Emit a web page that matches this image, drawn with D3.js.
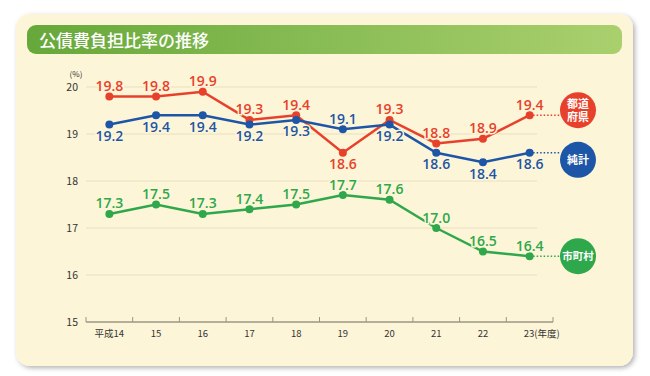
<!DOCTYPE html>
<html>
<head>
<meta charset="utf-8">
<script src="https://cdn.jsdelivr.net/npm/d3@7"></script>
<style>
  body { margin: 0; background: #fff; }
  svg { display: block; font-family: "Noto Sans CJK JP", "Noto Sans", sans-serif; }
</style>
</head>
<body>
<div id="chart"></div>
<script>
// data
const years = ["平成14", "15", "16", "17", "18", "19", "20", "21", "22", "23"];
const prefValues = [19.8, 19.8, 19.9, 19.3, 19.4, 18.6, 19.3, 18.8, 18.9, 19.4];
const netValues = [19.2, 19.4, 19.4, 19.2, 19.3, 19.1, 19.2, 18.6, 18.4, 18.6];
const cityValues = [17.3, 17.5, 17.3, 17.4, 17.5, 17.7, 17.6, 17.0, 16.5, 16.4];
const yTicks = [15, 16, 17, 18, 19, 20];

// series: label side per point ("up" / "down")
const series = [
    { name: ["都道", "府県"], values: prefValues, color: "#e8412b",
      side: ["up", "up", "up", "up", "up", "down", "up", "up", "up", "up"], badgeDy: -5 },
    { name: ["純計"], values: netValues, color: "#1d56a6",
      side: ["down", "down", "down", "down", "down", "up", "down", "down", "down", "down"], badgeDy: 7 },
    { name: ["市町村"], values: cityValues, color: "#2ea84b",
      side: ["up", "up", "up", "up", "up", "up", "up", "up", "up", "up"], badgeDy: 0 }
];

const W = 650, H = 376;
const svg = d3.select("#chart").append("svg")
    .attr("width", W)
    .attr("height", H);

const defs = svg.append("defs");

// panel shadow
const shadow = defs.append("filter").attr("id", "shadow")
    .attr("x", "-5%").attr("y", "-5%").attr("width", "110%").attr("height", "115%");
shadow.append("feDropShadow")
    .attr("dx", 2).attr("dy", 2).attr("stdDeviation", 2.5)
    .attr("flood-color", "#000").attr("flood-opacity", 0.3);

const grad = defs.append("linearGradient").attr("id", "titleGrad");
grad.append("stop").attr("offset", "0%").attr("stop-color", "#67a83a");
grad.append("stop").attr("offset", "100%").attr("stop-color", "#aad06e");

// panel
svg.append("rect")
    .attr("x", 16).attr("y", 14)
    .attr("width", 617).attr("height", 352)
    .attr("rx", 14)
    .attr("fill", "#fdf5d8")
    .attr("filter", "url(#shadow)");

// title bar
svg.append("rect")
    .attr("x", 27).attr("y", 25)
    .attr("width", 595).attr("height", 29)
    .attr("rx", 9)
    .attr("fill", "url(#titleGrad)");

svg.append("text")
    .attr("x", 39).attr("y", 47)
    .attr("fill", "#fff")
    .attr("font-size", 17)
    .attr("font-weight", 500)
    .text("公債費負担比率の推移");

// scales
const x = d3.scaleBand()
    .domain(years)
    .range([86, 553]);

const y = d3.scaleLinear()
    .domain([15, 20])
    .range([322, 87]);

const cx = d => x(d) + x.bandwidth() / 2;

// grid
svg.append("g")
    .selectAll("line")
    .data(yTicks.filter(t => t > 15))
    .enter().append("line")
    .attr("x1", 86).attr("x2", 537)
    .attr("y1", d => y(d)).attr("y2", d => y(d))
    .attr("stroke", "#e9dfbf")
    .attr("stroke-width", 1);

// y labels
svg.append("g")
    .selectAll("text")
    .data(yTicks)
    .enter().append("text")
    .attr("x", 78)
    .attr("y", d => y(d) + 4)
    .attr("text-anchor", "end")
    .attr("font-size", 10.5)
    .attr("fill", "#333")
    .text(d => d);

svg.append("text")
    .attr("x", 76).attr("y", 77)
    .attr("text-anchor", "middle")
    .attr("font-size", 8)
    .attr("fill", "#333")
    .text("(%)");

// x axis
const xAxis = svg.append("g")
    .attr("transform", "translate(0," + y(15) + ")");

xAxis.append("line")
    .attr("x1", 86).attr("x2", 553)
    .attr("stroke", "#9b9483").attr("stroke-width", 1.5);

xAxis.selectAll(".tick")
    .data(years.concat(["end"]))
    .enter().append("line")
    .attr("x1", (d, i) => 86 + i * x.bandwidth())
    .attr("x2", (d, i) => 86 + i * x.bandwidth())
    .attr("y1", 0).attr("y2", -5)
    .attr("stroke", "#9b9483").attr("stroke-width", 1);

xAxis.selectAll(".xlabel")
    .data(years)
    .enter().append("text")
    .attr("x", (d, i) => i === years.length - 1 ? cx(d) - 6 : cx(d))
    .attr("y", 15)
    .attr("text-anchor", (d, i) => i === years.length - 1 ? "start" : "middle")
    .attr("font-size", 9.5)
    .attr("fill", "#333")
    .text((d, i) => i === years.length - 1 ? d + "(年度)" : d);

// series
const badgeX = 578;
const line = d3.line()
    .x((d, i) => cx(years[i]))
    .y(d => y(d));

series.forEach(s => {
    const g = svg.append("g");
    const last = s.values.length - 1;
    const lastX = cx(years[last]);
    const lastY = y(s.values[last]);

    // dotted leader
    g.append("line")
        .attr("x1", lastX).attr("x2", badgeX - 18)
        .attr("y1", lastY).attr("y2", lastY)
        .attr("stroke", s.color)
        .attr("stroke-width", 1.5)
        .attr("stroke-dasharray", "1.5,2");

    g.append("path")
        .datum(s.values)
        .attr("d", line)
        .attr("fill", "none")
        .attr("stroke", s.color)
        .attr("stroke-width", 2.5);

    g.selectAll("circle")
        .data(s.values)
        .enter().append("circle")
        .attr("cx", (d, i) => cx(years[i]))
        .attr("cy", d => y(d))
        .attr("r", 4)
        .attr("fill", s.color);

    g.selectAll(".val")
        .data(s.values)
        .enter().append("text")
        .attr("x", (d, i) => cx(years[i]))
        .attr("y", (d, i) => s.side[i] === "up" ? y(d) - 5.5 : y(d) + 16.5)
        .attr("text-anchor", "middle")
        .attr("font-size", 14)
        .attr("font-weight", 600)
        .attr("font-family", "'Open Sans', sans-serif")
        .attr("fill", s.color)
        .attr("stroke", "#fdf5d8")
        .attr("stroke-width", 3)
        .attr("paint-order", "stroke")
        .text(d => d.toFixed(1));

    // badge
    const by = lastY + s.badgeDy;
    g.append("circle")
        .attr("cx", badgeX).attr("cy", by)
        .attr("r", 18)
        .attr("fill", s.color);

    const n = s.name.length;
    const fs = s.name[0].length > 2 ? 10.5 : 11;
    const label = g.append("text")
        .attr("text-anchor", "middle")
        .attr("font-size", fs)
        .attr("font-weight", "bold")
        .attr("fill", "#fff");
    s.name.forEach((t, k) => {
        label.append("tspan")
            .attr("x", badgeX)
            .attr("y", by + 4 + (k - (n - 1) / 2) * 13)
            .text(t);
    });
});
</script>
</body>
</html>
